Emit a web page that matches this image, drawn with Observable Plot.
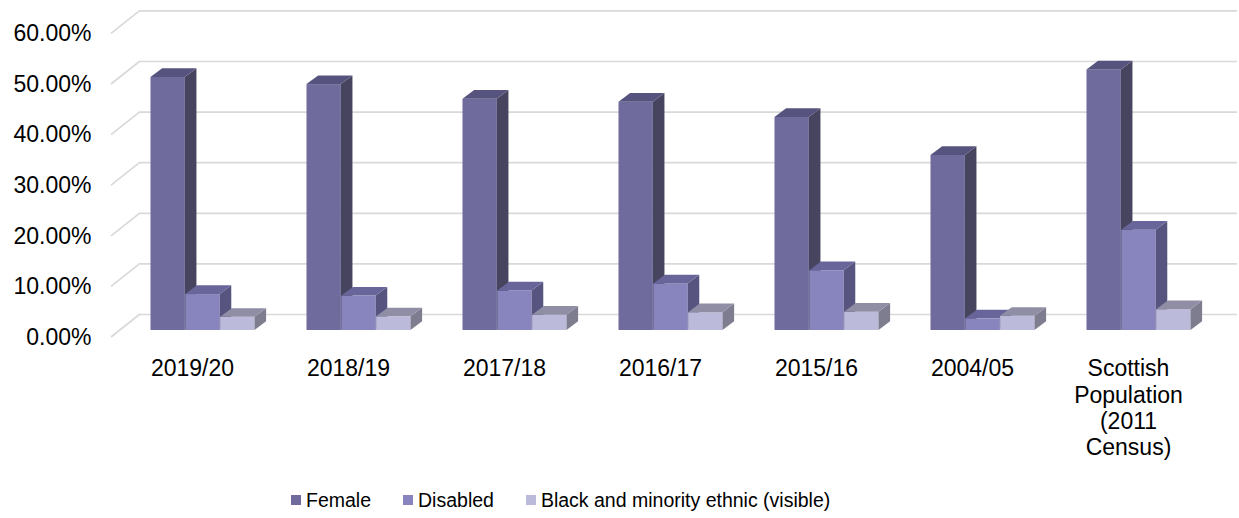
<!DOCTYPE html>
<html><head><meta charset="utf-8">
<script src="https://cdn.jsdelivr.net/npm/d3@7"></script>
<script src="https://cdn.jsdelivr.net/npm/@observablehq/plot@0.6"></script>
<style>
body{margin:0;background:#fff;font-family:"Liberation Sans",Arial,sans-serif;}
#chart{position:relative;width:1239px;height:518px;overflow:hidden;}
#chart svg{display:block;}
#legend{position:absolute;left:291px;top:488px;height:24px;display:flex;align-items:center;font-size:19.5px;color:#000;white-space:nowrap;}
.item{display:flex;align-items:center;margin-right:32px;}
.sw{width:10px;height:10px;margin-right:5px;}
</style></head><body><div id="chart"></div>
<script>
const categories = ["2019/20","2018/19","2017/18","2016/17","2015/16","2004/05","Scottish Population (2011 Census)"];
const categoryLabels = ["2019/20","2018/19","2017/18","2016/17","2015/16","2004/05","Scottish\nPopulation\n(2011\nCensus)"];
const series = ["Female","Disabled","Black and minority ethnic (visible)"];
const female   = [0.500,0.486,0.457,0.451,0.421,0.346,0.515];
const disabled = [0.071,0.068,0.078,0.092,0.118,0.023,0.198];
const bme      = [0.026,0.027,0.030,0.035,0.036,0.028,0.041];
const yTicks = [0,0.1,0.2,0.3,0.4,0.5,0.6];
const frontColors = ["#6f6b9c","#8884bd","#bcbadb"];
const sideColors  = ["#47445f","#57557f","#7e7d90"];
const topColors   = ["#56547e","#68659b","#8f8ea4"];

const seriesValues = [female, disabled, bme];
const rows = [];
series.forEach((s, k) => categories.forEach((c, i) => rows.push({series: s, k, category: c, value: seriesValues[k][i]})));

// layout
const W = 1239, H = 478, ML = 111, MR = 31, MT = 33.4, MB = 141;
const WALL_DX = 29, WALL_DY = 23;      // depth of the floor / side wall
const BAR_DX = 10.5, BAR_DY = 7;       // depth position of bar fronts
const DEP_DX = 11.6, DEP_DY = 8.7;     // depth of each bar
const PAD_IN = 1/3, PAD_OUT = 1/6;
const step = (W - ML - MR) / categories.length;
const sub = step * (1 - PAD_IN) / 3;
const svgNS = "http://www.w3.org/2000/svg";

function poly(g, pts, fill) {
  const p = document.createElementNS(svgNS, "polygon");
  p.setAttribute("points", pts.map(q => q.join(",")).join(" "));
  p.setAttribute("fill", fill);
  g.appendChild(p);
}

function bar3d(k) {
  return Plot.barY(rows.filter(d => d.k === k), {
    x: "category", y: "value",
    fill: frontColors[k],
    insetLeft: k * sub, insetRight: (2 - k) * sub,
    dx: BAR_DX, dy: -BAR_DY,
    render(index, scales, values, dimensions, context, next) {
      const g = next(index, scales, values, dimensions, context);
      const rects = Array.from(g.querySelectorAll("rect"));
      for (const r of rects) {
        const x = +r.getAttribute("x"), y = +r.getAttribute("y");
        const w = +r.getAttribute("width"), h = +r.getAttribute("height");
        poly(g, [[x + w, y], [x + w + DEP_DX, y - DEP_DY], [x + w + DEP_DX, y + h - DEP_DY], [x + w, y + h]], sideColors[k]);
        poly(g, [[x, y], [x + DEP_DX, y - DEP_DY], [x + w + DEP_DX, y - DEP_DY], [x + w, y]], topColors[k]);
      }
      return g;
    }
  });
}

const chart = Plot.plot({
  width: W, height: H,
  marginLeft: ML, marginRight: MR, marginTop: MT, marginBottom: MB,
  style: {fontFamily: "'Liberation Sans', Arial, sans-serif", fontSize: "23px", color: "#000", background: "#fff"},
  x: {domain: categories, paddingInner: PAD_IN, paddingOuter: PAD_OUT, label: null},
  y: {domain: [0, 0.6], label: null},
  marks: [
    // back wall gridlines
    Plot.ruleY(yTicks, {stroke: "#d9d9d9", strokeWidth: 1.7, dx: WALL_DX, dy: -WALL_DY}),
    // side wall diagonals
    Plot.ruleY(yTicks, {
      stroke: "#d9d9d9", strokeWidth: 1.7,
      render(index, scales, values, dimensions) {
        const g = document.createElementNS(svgNS, "g");
        g.setAttribute("stroke", "#d9d9d9");
        g.setAttribute("stroke-width", 1.7);
        for (const i of index) {
          const y = values.y[i];
          const l = document.createElementNS(svgNS, "line");
          l.setAttribute("x1", dimensions.marginLeft);
          l.setAttribute("y1", y);
          l.setAttribute("x2", dimensions.marginLeft + WALL_DX);
          l.setAttribute("y2", y - WALL_DY);
          g.appendChild(l);
        }
        return g;
      }
    }),
    bar3d(0), bar3d(1), bar3d(2),
    Plot.axisY(yTicks, {tickSize: 0, tickPadding: 20, tickFormat: d3.format(".2%"), fill: "#000", label: null}),
    Plot.axisX({tickSize: 0, tickPadding: 20, lineHeight: 1.145, fill: "#000", label: null,
      tickFormat: d => categoryLabels[categories.indexOf(d)]})
  ]
});
const root = document.getElementById("chart");
root.appendChild(chart);

const legend = document.createElement("div");
legend.id = "legend";
series.forEach((s, k) => {
  const item = document.createElement("div");
  item.className = "item";
  const sw = document.createElement("span");
  sw.className = "sw";
  sw.style.background = frontColors[k];
  const t = document.createElement("span");
  t.textContent = s;
  item.appendChild(sw); item.appendChild(t);
  legend.appendChild(item);
});
root.appendChild(legend);
</script></body></html>
